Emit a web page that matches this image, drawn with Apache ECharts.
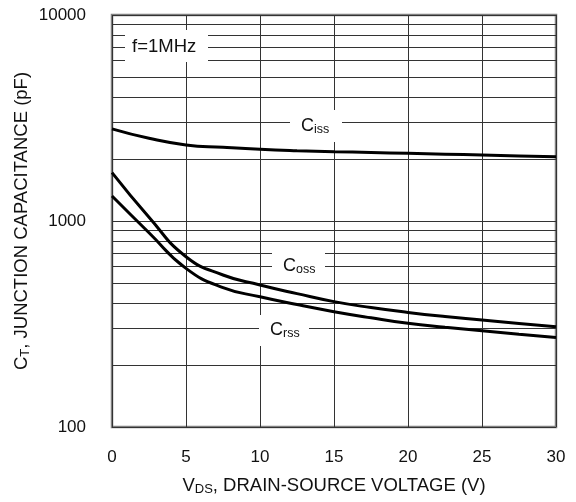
<!DOCTYPE html>
<html>
<head>
<meta charset="utf-8">
<script src="https://cdn.jsdelivr.net/npm/echarts@6/dist/echarts.min.js"></script>
<style>
  html, body { margin: 0; padding: 0; background: #fff; }
  #chart { width: 576px; height: 502px; }
</style>
</head>
<body>
<div id="chart"></div>
<script>
// VDS (V)
const voltage = [0, 2.5, 5, 7.5, 10, 12.5, 15, 17.5, 20, 22.5, 25, 27.5, 30];
// capacitance (pF)
const ciss = [2800, 2520, 2340, 2280, 2230, 2195, 2170, 2150, 2130, 2110, 2090, 2070, 2050];
const coss = [1716, 1043, 671, 547, 489, 444, 406, 380, 360, 344, 331, 318, 307];
const crss = [1322, 877, 589, 475, 429, 393, 363, 339, 319, 305, 293, 282, 272];
// minor log grid lines
const minorGrid = [200, 300, 400, 500, 600, 700, 800, 900, 2000, 3000, 4000, 5000, 6000, 7000, 8000, 9000];

const font = 'Liberation Sans, Arial, sans-serif';
const textColor = '#111';

function pairs(ys) {
  return voltage.map((v, i) => [v, ys[i]]);
}

function curve(name, ys) {
  return {
    name: name,
    type: 'line',
    data: pairs(ys),
    smooth: 0.5,
    symbol: 'none',
    lineStyle: { color: '#000', width: 3 },
    z: 5
  };
}

// white box behind annotation text
function box(x, y, w, h) {
  return { type: 'rect', shape: { x: x, y: y, width: w, height: h }, style: { fill: '#fff' }, z: 50 };
}

function capLabel(x, y, sub) {
  return {
    type: 'text', x: x, y: y, z: 60,
    style: {
      text: '{c|C}{s|' + sub + '}',
      verticalAlign: 'middle',
      rich: {
        c: { fontSize: 18, fontFamily: font, fill: textColor },
        s: { fontSize: 12.5, fontFamily: font, fill: textColor, verticalAlign: 'bottom', padding: [8, 0, 0, 0] }
      }
    }
  };
}

const nameRich = {
  a: { fontSize: 18.5, fontFamily: font, color: textColor },
  b: { fontSize: 13, fontFamily: font, color: textColor, verticalAlign: 'bottom', padding: [8, 0, 0, 0] }
};

const chart = echarts.init(document.getElementById('chart'));

chart.setOption({
  animation: false,
  grid: {
    left: 112, right: 20, top: 15, bottom: 75,
    outerBoundsMode: 'none',
    containLabel: false,
    show: true, borderColor: '#808080', borderWidth: 2.5, backgroundColor: 'transparent'
  },
  xAxis: {
    type: 'value', min: 0, max: 30, interval: 5,
    axisLine: { show: false },
    axisTick: { show: false },
    axisLabel: { fontSize: 17, fontFamily: font, color: textColor, margin: 22 },
    splitLine: { show: true, lineStyle: { color: '#333', width: 1 } },
    name: '{a|V}{b|DS}{a|, DRAIN-SOURCE VOLTAGE (V)}',
    nameLocation: 'middle',
    nameMoveOverlap: false,
    nameGap: 48,
    nameTextStyle: { rich: nameRich }
  },
  yAxis: {
    type: 'log', logBase: 10, min: 100, max: 10000, splitNumber: 2,
    axisLine: { show: false },
    axisTick: { show: false },
    axisLabel: {
      fontSize: 17, fontFamily: font, color: textColor, margin: 26,
      formatter: v => String(Math.round(v))
    },
    splitLine: { show: true, lineStyle: { color: '#333', width: 1 } },
    name: '{a|C}{b|T}{a|, JUNCTION CAPACITANCE (pF)}',
    nameLocation: 'middle',
    nameRotate: 90,
    nameMoveOverlap: false,
    nameGap: 80,
    nameTextStyle: { rich: nameRich }
  },
  series: [
    Object.assign(curve('Ciss', ciss), {
      markLine: {
        silent: true,
        symbol: 'none',
        label: { show: false },
        lineStyle: { color: '#333', width: 1, type: 'solid' },
        data: minorGrid.map(v => ({ yAxis: v }))
      }
    }),
    curve('Coss', coss),
    curve('Crss', crss)
  ],
  graphic: [
    box(125, 30, 83, 32),
    {
      type: 'text', x: 132, y: 47, z: 60,
      style: { text: 'f=1MHz', fontSize: 18.5, fontFamily: font, fill: textColor, verticalAlign: 'middle' }
    },
    box(290, 110, 52, 32),
    capLabel(301, 126, 'iss'),
    box(272, 252, 53, 28),
    capLabel(283, 266, 'oss'),
    box(259, 315, 50, 31),
    capLabel(270, 330, 'rss')
  ]
});
</script>
</body>
</html>
